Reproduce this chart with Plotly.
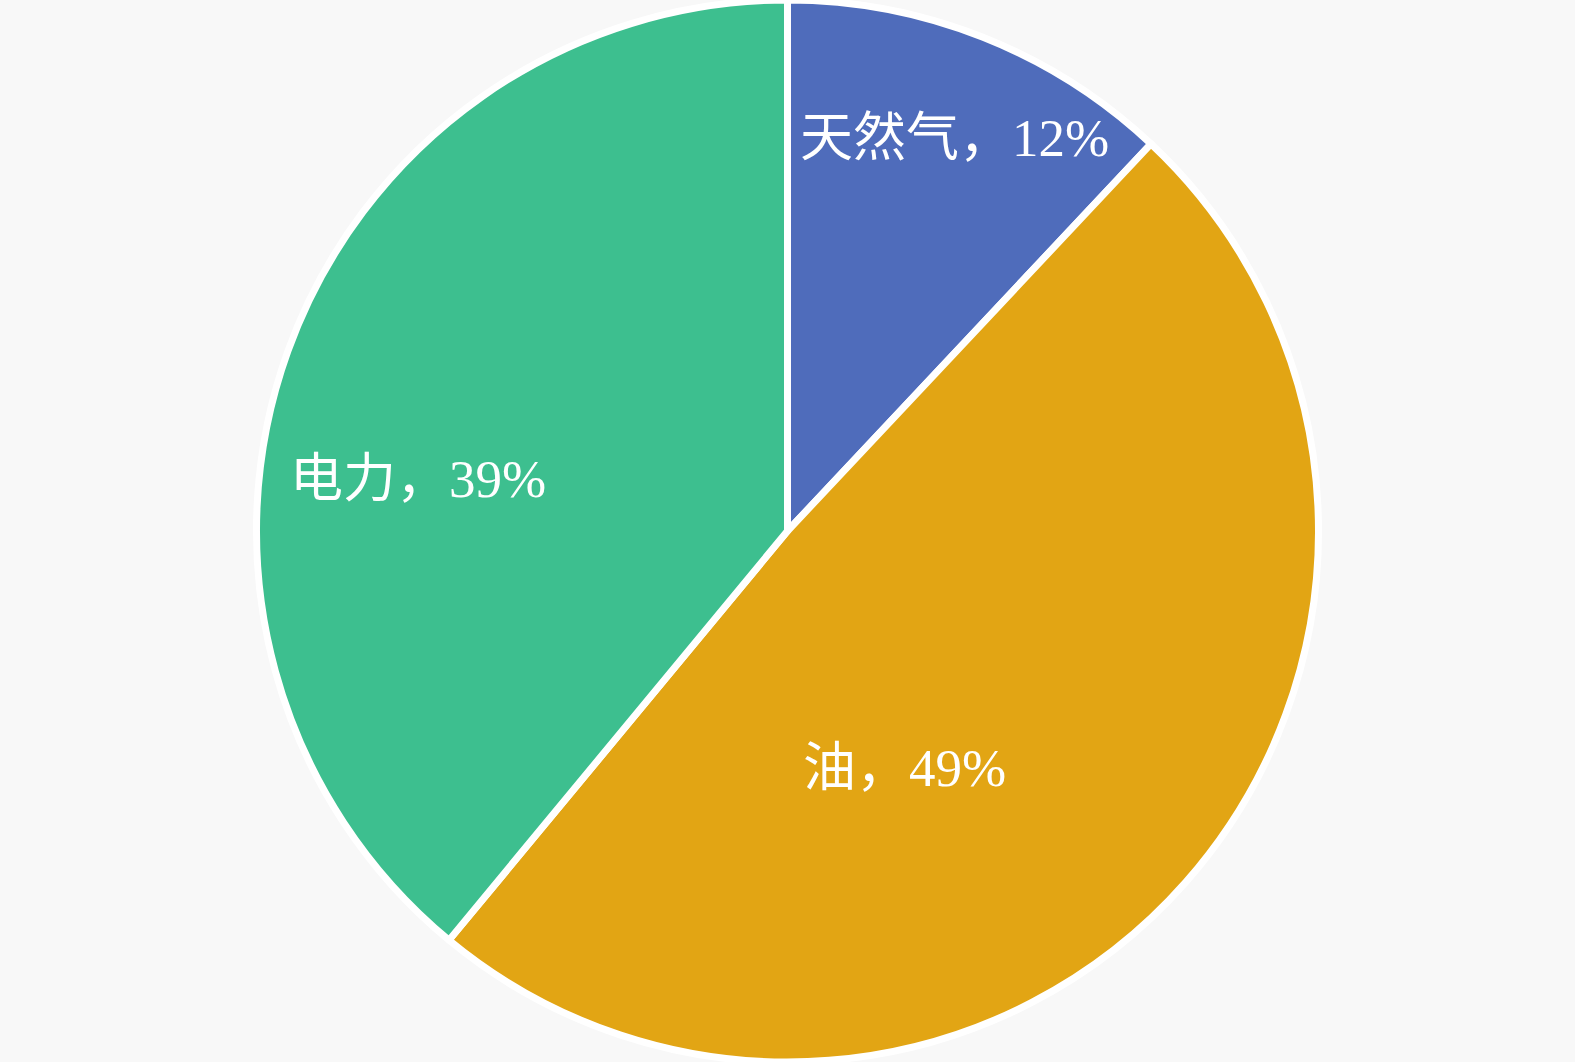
import plotly.graph_objects as go

labels = ["天然气", "油", "电力"]
values = [12, 49, 39]
colors = ["#4F6CBB", "#E2A514", "#3DBF8F"]

# label anchor positions (paper coords) for each slice's text
label_pos = [(0.606, 0.870), (0.574, 0.277), (0.2651, 0.549)]

fig = go.Figure()
fig.add_trace(go.Pie(
    labels=labels,
    values=values,
    sort=False,
    direction="clockwise",
    rotation=0,
    marker=dict(colors=colors, line=dict(color="#FFFFFF", width=7)),
    textinfo="none",
    hoverinfo="label+percent",
    showlegend=False,
    domain=dict(x=[0, 1], y=[0, 1]),
))

total = sum(values)
for lab, val, (x, y) in zip(labels, values, label_pos):
    fig.add_annotation(
        x=x, y=y, xref="paper", yref="paper",
        text=f"{lab}，{round(val / total * 100)}%",
        showarrow=False,
        font=dict(family="Liberation Serif, Noto Sans CJK SC", size=53, color="#FFFFFF"),
        xanchor="center", yanchor="middle",
    )

fig.update_layout(
    width=1575, height=1062,
    margin=dict(l=0, r=0, t=0, b=0),
    paper_bgcolor="#F8F8F8",
    plot_bgcolor="#F8F8F8",
)

fig.write_html(
    "out.html",
    config={"displayModeBar": False},
    post_script="document.body.style.margin='0';document.body.style.background='#F8F8F8';",
)
